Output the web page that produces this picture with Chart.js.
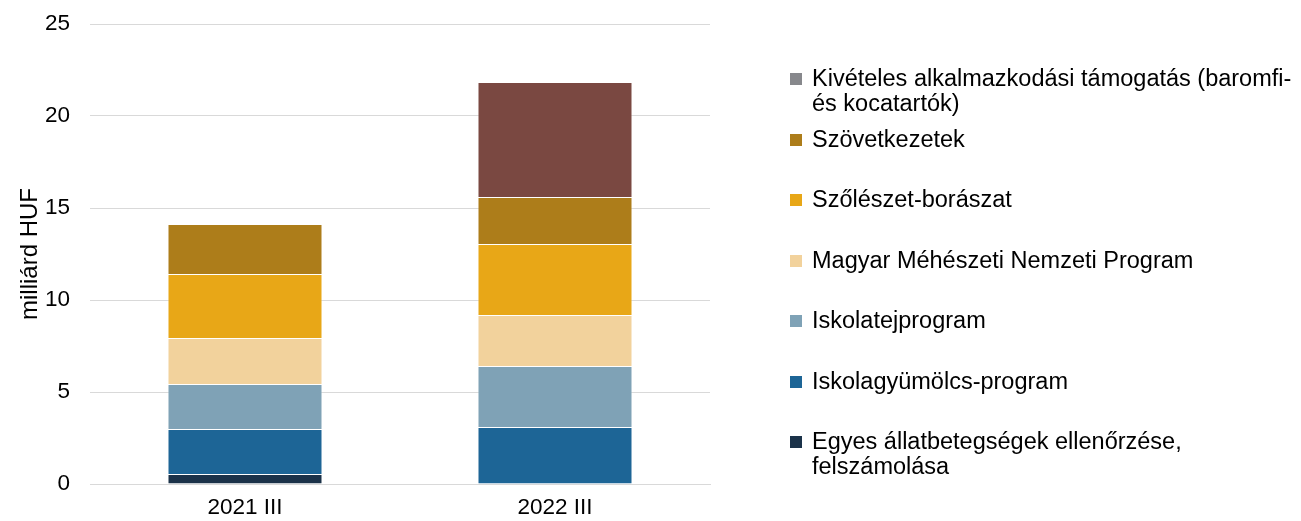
<!DOCTYPE html>
<html lang="hu">
<head>
<meta charset="UTF-8">
<title>Támogatások</title>
<script src="https://cdn.jsdelivr.net/npm/chart.js@4.4.1/dist/chart.umd.min.js"></script>
<style>
  * { box-sizing: border-box; }
  html, body { margin: 0; padding: 0; background: #fff; }
  .wrap { position: relative; width: 1301px; height: 521px; }
  #legend { position: absolute; left: 790px; top: 0; width: 511px; font-family: 'Liberation Sans', Arial, sans-serif; font-size: 23.5px; color: #000; }
  .item { position: absolute; left: 0; display: flex; align-items: flex-start; line-height: 25px; white-space: nowrap; }
  .box { width: 12px; height: 12px; margin: 7px 10px 0 0; flex: none; }
</style>
</head>
<body>
<div class="wrap">
  <canvas id="chart" width="1301" height="521"></canvas>
  <div id="legend"></div>
</div>
<script>
const categories = ['2021 III', '2022 III'];
const seriesNames = [
  'Egyes állatbetegségek ellenőrzése,\nfelszámolása',
  'Iskolagyümölcs-program',
  'Iskolatejprogram',
  'Magyar Méhészeti Nemzeti Program',
  'Szőlészet-borászat',
  'Szövetkezetek',
  'Kivételes alkalmazkodási támogatás (baromfi-\nés kocatartók)'
];
const allatbetegseg = [0.54, 0];
const iskolagyumolcs = [2.45, 3.10];
const iskolatej = [2.44, 3.31];
const meheszet = [2.50, 2.77];
const szoleszet = [3.48, 3.86];
const szovetkezet = [2.72, 2.56];
const kiveteles = [0, 6.25];
const seriesColors = ['#1b3249', '#1d6596', '#7fa2b6', '#f2d29c', '#e8a717', '#ad7d1a', '#7a4841'];
const legendColors = ['#1b3249', '#1d6596', '#7fa2b6', '#f2d29c', '#e8a717', '#ad7d1a', '#87888c'];
const yTicks = [0, 5, 10, 15, 20, 25];

const values = [allatbetegseg, iskolagyumolcs, iskolatej, meheszet, szoleszet, szovetkezet, kiveteles];

const chart = new Chart(document.getElementById('chart'), {
  type: 'bar',
  data: {
    labels: categories,
    datasets: values.map((v, i) => ({
      label: seriesNames[i],
      data: v,
      backgroundColor: seriesColors[i],
      borderColor: 'rgba(255,255,255,0.35)',
      borderWidth: 1,
      barPercentage: 0.5,
      categoryPercentage: 1
    }))
  },
  options: {
    responsive: false,
    animation: false,
    layout: { padding: { top: 24, right: 591, bottom: 0, left: 0 } },
    plugins: { legend: { display: false }, tooltip: { enabled: false } },
    scales: {
      x: {
        stacked: true,
        grid: { display: false },
        border: { color: '#d9d9d9' },
        ticks: { color: '#000', font: { family: 'Liberation Sans', size: 22.5 }, padding: 2 },
        afterFit: s => { s.height = 37; s.paddingLeft = 0; s.paddingRight = 0; }
      },
      y: {
        stacked: true,
        min: 0,
        max: 25,
        afterBuildTicks: s => { s.ticks = yTicks.map(v => ({ value: v })); },
        grid: { color: '#d9d9d9', drawTicks: false },
        border: { display: false },
        ticks: { color: '#000', font: { family: 'Liberation Sans', size: 22.5 }, padding: 20 },
        title: { display: true, text: 'milliárd HUF', color: '#000', font: { family: 'Liberation Sans', size: 24 }, padding: { top: 16, bottom: 0 } },
        afterFit: s => { s.width = 90; s.paddingTop = 0; s.paddingBottom = 0; }
      }
    }
  }
});

// legend, top of the stack first
const legend = document.getElementById('legend');
const firstLines = [66, 127, 187, 248, 308, 369, 429];
chart.data.datasets.slice().reverse().forEach((ds, k) => {
  const i = chart.data.datasets.length - 1 - k;
  const item = document.createElement('div');
  item.className = 'item';
  item.style.top = firstLines[k] + 'px';
  const box = document.createElement('span');
  box.className = 'box';
  box.style.background = legendColors[i];
  const txt = document.createElement('span');
  txt.innerHTML = ds.label.split('\n').join('<br>');
  item.appendChild(box);
  item.appendChild(txt);
  legend.appendChild(item);
});
</script>
</body>
</html>
